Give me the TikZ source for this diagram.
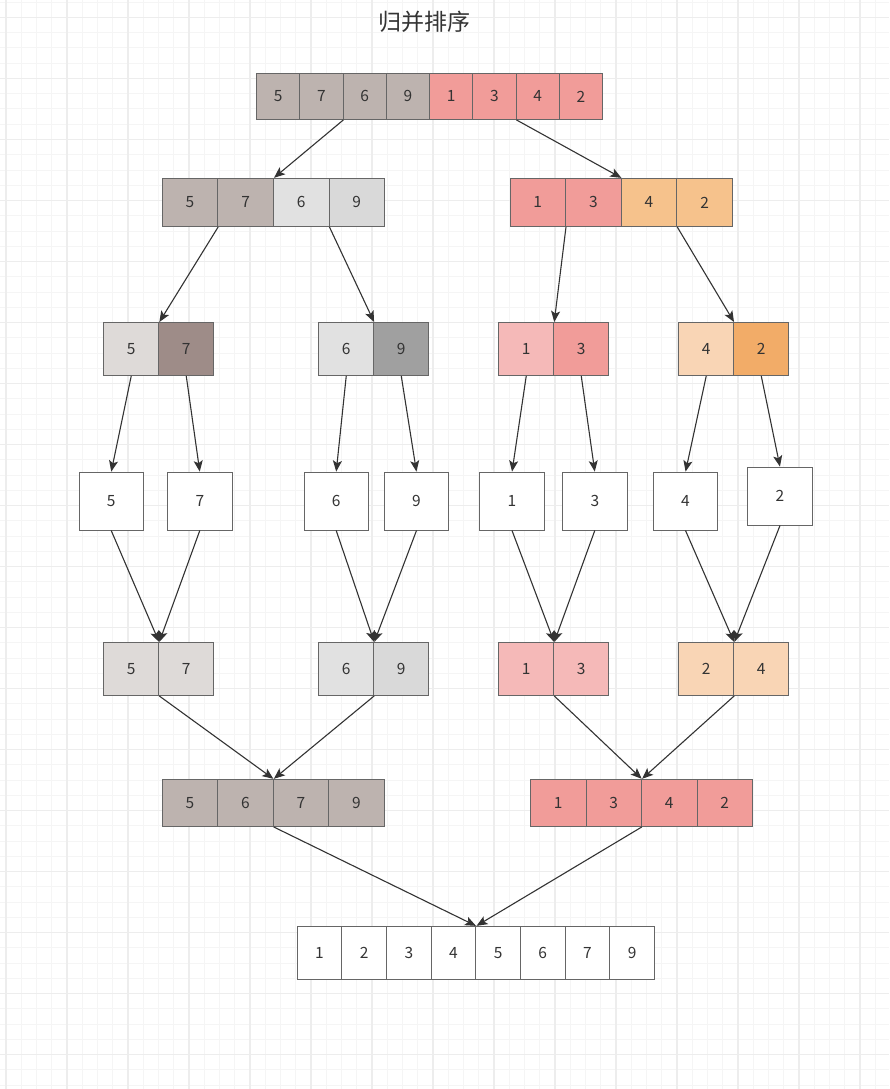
\documentclass[tikz,border=0pt]{standalone}
\usepackage{fontspec}
\setmainfont{Noto Sans CJK SC}
\usetikzlibrary{arrows.meta}
\definecolor{txt}{HTML}{333333}
\definecolor{edge}{HTML}{666666}
\definecolor{gminor}{HTML}{F5F5F5}
\definecolor{gmajor}{HTML}{EDEDED}
\definecolor{grayA}{HTML}{BDB3AF}
\definecolor{redA}{HTML}{F19C99}
\definecolor{orangeA}{HTML}{F6C28C}
\definecolor{lgA}{HTML}{E1E1E1}
\definecolor{lgB}{HTML}{D9D9D9}
\definecolor{dgA}{HTML}{A0A0A0}
\definecolor{pgA}{HTML}{DEDAD8}
\definecolor{brA}{HTML}{9E8C88}
\definecolor{pkA}{HTML}{F5B9B8}
\definecolor{peA}{HTML}{F9D5B5}
\definecolor{orB}{HTML}{F2AC68}
\definecolor{white0}{HTML}{FFFFFF}
\tikzset{
  cell/.style={draw=edge, line width=0.9pt, inner sep=0pt, text=txt, font=\fontsize{15.5}{16}\selectfont},
  single/.style={cell, fill=white, minimum width=64.5pt, minimum height=57.7pt},
  arr/.style={draw=txt, line width=1.1pt, -{Stealth[length=11pt,width=9pt,inset=2.5pt]}, shorten >=0.3pt},
  gridminor/.style={draw=gminor, line width=1pt},
  gridmajor/.style={draw=gmajor, line width=1.3pt}
}
\newcommand{\mkrow}[6]{%
  \foreach \v/\c [count=\i] in {#6} {
    \node[cell, fill=\c, minimum width=#4pt, minimum height=#5pt, anchor=north west] (#1\i) at ({#2+(\i-1)*#4}, #3) {\v};
  }%
}
\begin{document}
\begin{tikzpicture}[x=1pt,y=-1pt]
\useasboundingbox (0,0) rectangle (889,1089);
\fill[white] (0,0) rectangle (889,1089);
% grid
\foreach \k in {0,...,58} { \draw[gridminor] ({6+15.25*\k},0) -- ({6+15.25*\k},1089); }
\foreach \k in {-1,...,70} { \draw[gridminor] (0,{17.5+15.25*\k}) -- (889,{17.5+15.25*\k}); }
\foreach \k in {0,4,...,56} { \draw[gridmajor] ({6+15.25*\k},0) -- ({6+15.25*\k},1089); }
\foreach \k in {0,4,...,68} { \draw[gridmajor] (0,{17.5+15.25*\k}) -- (889,{17.5+15.25*\k}); }
% title
\node[text=txt, font=\fontsize{23}{25}\selectfont] (title) at (424,22) {归并排序};
% row 1
\mkrow{t}{256}{73}{43.25}{46}{5/grayA,7/grayA,6/grayA,9/grayA,1/redA,3/redA,4/redA,2/redA}
% row 2
\mkrow{b}{161.7}{178}{55.6}{48}{5/grayA,7/grayA,6/lgA,9/lgB}
\mkrow{c}{509.5}{178}{55.6}{48}{1/redA,3/redA,4/orangeA,2/orangeA}
% row 3
\mkrow{d}{103.3}{322.3}{55}{52.7}{5/pgA,7/brA}
\mkrow{e}{318.3}{322.3}{55}{52.7}{6/lgA,9/dgA}
\mkrow{f}{498.3}{322.3}{55}{52.7}{1/pkA,3/redA}
\mkrow{g}{678.3}{322.3}{55}{52.7}{4/peA,2/orB}
% row 4
\node[single] (s1) at (111.2,501.2) {5};
\node[single] (s2) at (199.8,501.2) {7};
\node[single] (s3) at (336.2,501.2) {6};
\node[single] (s4) at (416.5,501.2) {9};
\node[single] (s5) at (512.0,501.2) {1};
\node[single] (s6) at (594.8,501.2) {3};
\node[single] (s7) at (685.5,501.2) {4};
\node[single] (s8) at (780.0,496.2) {2};
% row 5
\mkrow{h}{103.3}{642.3}{55}{52.7}{5/pgA,7/pgA}
\mkrow{i}{318.3}{642.3}{55}{52.7}{6/lgA,9/lgB}
\mkrow{j}{498.3}{642.3}{55}{52.7}{1/pkA,3/pkA}
\mkrow{k}{678.3}{642.3}{55}{52.7}{2/peA,4/peA}
% row 6
\mkrow{m}{161.7}{779}{55.5}{47}{5/grayA,6/grayA,7/grayA,9/grayA}
\mkrow{n}{530}{779}{55.5}{47}{1/redA,3/redA,4/redA,2/redA}
% row 7
\mkrow{p}{296.7}{926}{44.66}{53.3}{1/white0,2/white0,3/white0,4/white0,5/white0,6/white0,7/white0,9/white0}
% arrows
\draw[arr] (t2.south east) -- (b2.north east);
\draw[arr] (t6.south east) -- (c2.north east);
\draw[arr] (b1.south east) -- (d1.north east);
\draw[arr] (b3.south east) -- (e1.north east);
\draw[arr] (c1.south east) -- (f1.north east);
\draw[arr] (c3.south east) -- (g1.north east);
\draw[arr] (d1.south) -- (s1.north);
\draw[arr] (d2.south) -- (s2.north);
\draw[arr] (e1.south) -- (s3.north);
\draw[arr] (e2.south) -- (s4.north);
\draw[arr] (f1.south) -- (s5.north);
\draw[arr] (f2.south) -- (s6.north);
\draw[arr] (g1.south) -- (s7.north);
\draw[arr] (g2.south) -- (s8.north);
\draw[arr] (s1.south) -- (h1.north east);
\draw[arr] (s2.south) -- (h1.north east);
\draw[arr] (s3.south) -- (i1.north east);
\draw[arr] (s4.south) -- (i1.north east);
\draw[arr] (s5.south) -- (j1.north east);
\draw[arr] (s6.south) -- (j1.north east);
\draw[arr] (s7.south) -- (k1.north east);
\draw[arr] (s8.south) -- (k1.north east);
\draw[arr] (h1.south east) -- (m2.north east);
\draw[arr] (i1.south east) -- (m2.north east);
\draw[arr] (j1.south east) -- (n2.north east);
\draw[arr] (k1.south east) -- (n2.north east);
\draw[arr] (m2.south east) -- (p4.north east);
\draw[arr] (n2.south east) -- (p4.north east);
\end{tikzpicture}
\end{document}
